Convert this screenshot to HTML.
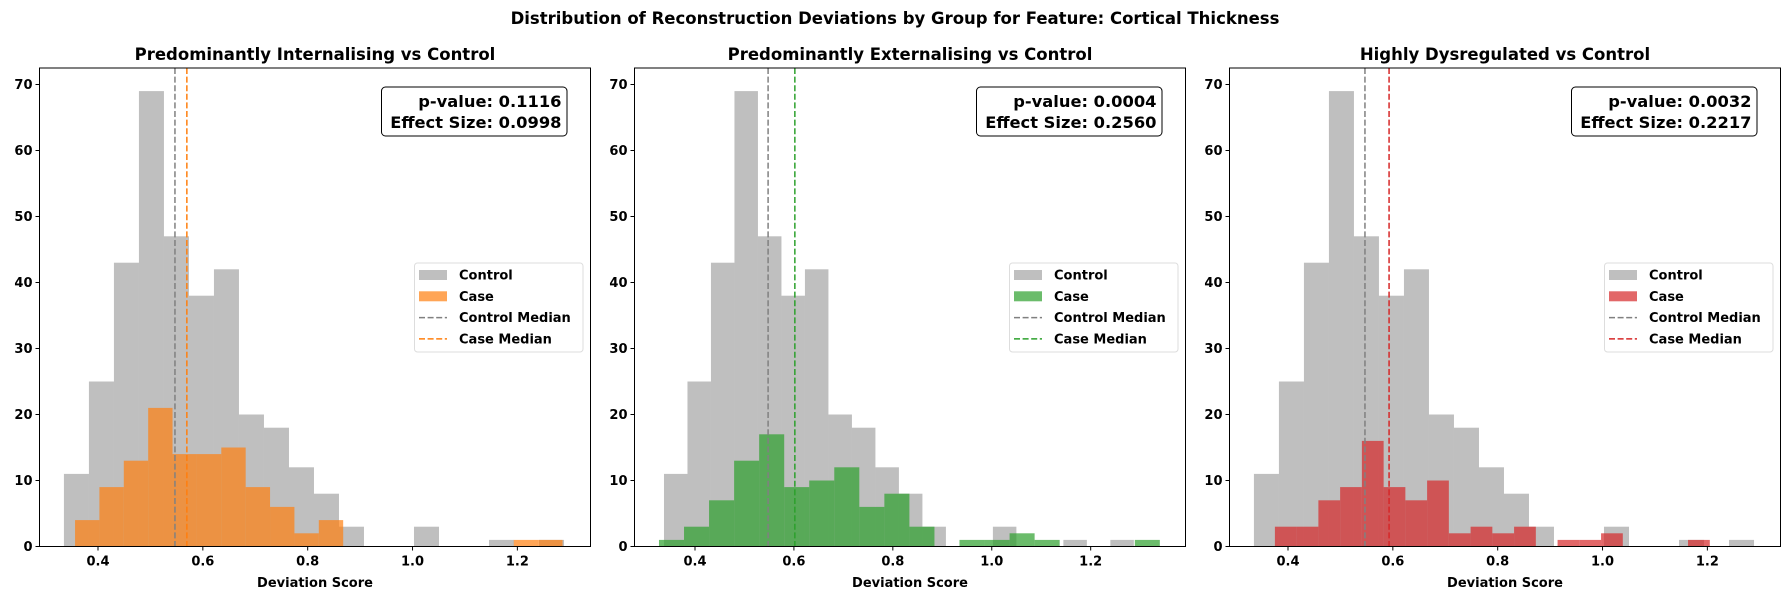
<!DOCTYPE html>
<html><head><meta charset="utf-8"><style>
body{margin:0;background:#fff;}
svg{display:block;font-family:"DejaVu Sans","Liberation Sans",sans-serif;font-weight:bold;}
</style></head><body>
<svg id="chart" width="1790" height="592" viewBox="0 0 1790 592" xmlns="http://www.w3.org/2000/svg">
<text x="895" y="24" text-anchor="middle" font-size="16.5">Distribution of Reconstruction Deviations by Group for Feature: Cortical Thickness</text>
</svg>
<script>
const titles = ["Predominantly Internalising vs Control","Predominantly Externalising vs Control","Highly Dysregulated vs Control"];
const controlCounts = [11,25,43,69,47,38,42,20,18,12,8,3,0,0,3,0,0,1,0,1];
const controlStart = [0.335,0.3373,0.335];
const controlWidth = [0.0477,0.0475,0.0477];
const case1Counts = [4,9,13,21,14,14,15,9,6,2,4,0,0,0,0,0,0,0,1,1];
const case2Counts = [1,3,7,13,17,9,10,12,6,8,3,0,1,1,2,1,0,0,0,1];
const case3Counts = [3,3,7,9,16,9,7,10,2,3,2,3,0,1,1,2,0,0,0,1];
const caseStart = [0.3562,0.3272,0.375];
const caseWidth = [0.0465,0.05063,0.04148];
const controlMedians = [0.5468,0.5478,0.5468];
const caseMedians = [0.5695,0.6019,0.5928];
const pValues = ["0.1116","0.0004","0.0032"];
const effectSizes = ["0.0998","0.2560","0.2217"];
const xTicks = [0.4,0.6,0.8,1.0,1.2];
const yTicks = [0,10,20,30,40,50,60,70];
const xDomains = [[0.2884,1.3395],[0.2777,1.3917],[0.2884,1.3395]];
const yMax = 72.5;

const caseCounts=[case1Counts,case2Counts,case3Counts];
const caseColors=["#ff7f0e","#2ca02c","#d62728"];
const NS="http://www.w3.org/2000/svg";
const svgRoot=document.getElementById('chart');
function mk(tag,attrs,parent){const e=document.createElementNS(NS,tag);for(const k in attrs)e.setAttribute(k,attrs[k]);(parent||svgRoot).appendChild(e);return e;}
const lefts=[39.5,634.5,1229.5];
const W=551, axTop=68, axBottom=546.5;
for(let p=0;p<3;p++){
  const L=lefts[p];
  const g=mk('g',{});
  
  
  const x0=xDomains[p][0], x1=xDomains[p][1];
  const X=v=>L+(v-x0)/(x1-x0)*W;
  const Y=v=>axBottom-v/yMax*(axBottom-axTop);
  const t=mk('text',{x:L+W/2,y:60,'text-anchor':'middle','font-size':'16.5'},g);t.textContent=titles[p];
  
  
  controlCounts.forEach((c,i)=>{if(!c)return;
    const a=controlStart[p]+i*controlWidth[p];
    const r=mk('rect',{x:X(a),y:Y(c),width:X(a+controlWidth[p])-X(a),height:Y(0)-Y(c),fill:'#808080','fill-opacity':0.5},g);
    
    
  });
  caseCounts[p].forEach((c,i)=>{if(!c)return;
    const a=caseStart[p]+i*caseWidth[p];
    const r=mk('rect',{x:X(a),y:Y(c),width:X(a+caseWidth[p])-X(a),height:Y(0)-Y(c),fill:caseColors[p],'fill-opacity':0.7},g);
    
    
  });
  const m1=mk('line',{x1:X(controlMedians[p]),x2:X(controlMedians[p]),y1:axTop,y2:axBottom,stroke:'#808080','stroke-width':1.5,'stroke-dasharray':'6 2.6'},g);
  
  
  const m2=mk('line',{x1:X(caseMedians[p]),x2:X(caseMedians[p]),y1:axTop,y2:axBottom,stroke:caseColors[p],'stroke-width':1.5,'stroke-dasharray':'6 2.6'},g);
  
  
  const fr=mk('rect',{x:L,y:axTop,width:W,height:axBottom-axTop,fill:'none',stroke:'#000','stroke-width':1},g);
  
  
  xTicks.forEach(v=>{const x=X(v);
    mk('line',{x1:x,x2:x,y1:axBottom,y2:axBottom+4,stroke:'#000'},g);
    const tx=mk('text',{x:x,y:axBottom+19,'text-anchor':'middle','font-size':'13'},g);tx.textContent=v.toFixed(1);
    
    
  });
  yTicks.forEach(v=>{const y=Y(v);
    mk('line',{x1:L-4,x2:L,y1:y,y2:y,stroke:'#000'},g);
    const ty=mk('text',{x:L-7,y:y+4.5,'text-anchor':'end','font-size':'13'},g);ty.textContent=v;
    
    
  });
  const xl=mk('text',{x:L+W/2,y:587,'text-anchor':'middle','font-size':'13'},g);xl.textContent='Deviation Score';
  
  
  const sb=mk('rect',{x:L+342,y:87,width:185.5,height:49,rx:4,fill:'#fff',stroke:'#000','stroke-width':1},g);
  
  
  const s1=mk('text',{x:L+522,y:107,'text-anchor':'end','font-size':'16.3'},g);s1.textContent='p-value: '+pValues[p];
  
  
  const s2=mk('text',{x:L+522,y:128,'text-anchor':'end','font-size':'16.3'},g);s2.textContent='Effect Size: '+effectSizes[p];
  
  
  const lg=mk('g',{},g);
  
  
  mk('rect',{x:L+375,y:263,width:168.5,height:89,rx:3,fill:'#fff','fill-opacity':0.8,stroke:'#ddd'},lg);
  const items=[['Control','patch','#808080',0.5],['Case','patch',caseColors[p],0.7],['Control Median','line','#808080',1],['Case Median','line',caseColors[p],1]];
  items.forEach((it,i)=>{const y=275+i*21.3;
    if(it[1]==='patch') mk('rect',{x:L+379.5,y:y-5,width:28,height:10,fill:it[2],'fill-opacity':it[3]},lg);
    else mk('line',{x1:L+379.5,x2:L+407.5,y1:y,y2:y,stroke:it[2],'stroke-width':1.5,'stroke-dasharray':'6 2.6'},lg);
    const lt=mk('text',{x:L+419.5,y:y+4.5,'font-size':'13'},lg);lt.textContent=it[0];
    
    
  });
}
</script>
</body></html>
